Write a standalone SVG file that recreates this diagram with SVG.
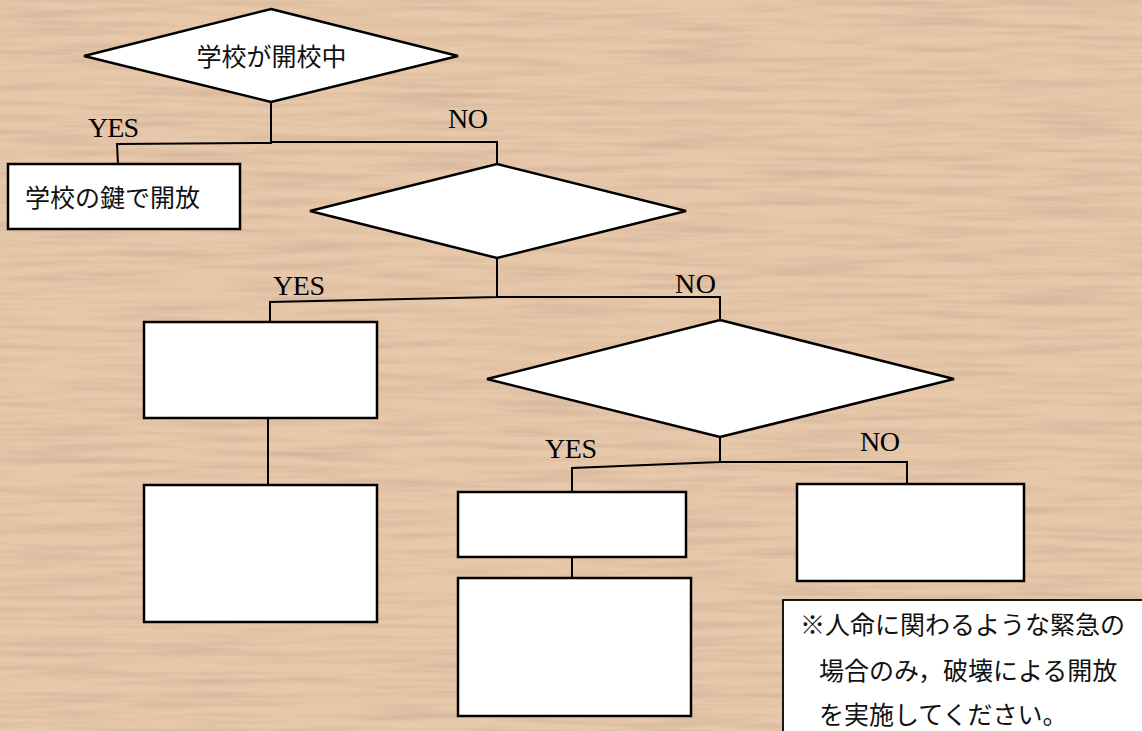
<svg xmlns="http://www.w3.org/2000/svg" width="1142" height="731" viewBox="0 0 1142 731">
<defs>
<filter id="wood" x="0" y="0" width="100%" height="100%">
<feTurbulence type="fractalNoise" baseFrequency="0.008 0.14" numOctaves="3" seed="7"/>
<feColorMatrix type="matrix" values="0 0 0 0 0.6  0 0 0 0 0.42  0 0 0 0 0.3  1.7 0 0 0 -0.68"/>
</filter>
<style>
.node{fill:#fff;stroke:#000;stroke-width:2.5}
.note{fill:#fff;stroke:#000;stroke-width:1.8}
.conn{fill:none;stroke:#000;stroke-width:2}
.lbl{font-family:"Liberation Serif","Times New Roman",serif;font-size:28px;fill:#000}
.jp{font-family:"Noto Sans CJK JP","Noto Sans",sans-serif;font-size:25px;fill:#111}
</style>
</defs>
<rect width="1142" height="731" fill="#e8c8aa"/>
<rect width="1142" height="731" filter="url(#wood)" opacity="0.8"/>

<g id="connectors">
<polyline class="conn" points="271,102 271,143 117,144 118,164"/>
<polyline class="conn" points="271,142 497,142 497,164"/>
<polyline class="conn" points="497,258 497,297 270,302 270,322"/>
<polyline class="conn" points="497,297 720,297 720,320"/>
<line class="conn" x1="268" y1="418" x2="268" y2="485"/>
<polyline class="conn" points="720,437 720,462 572,468 572,492"/>
<polyline class="conn" points="720,462 907,462 907,484"/>
<line class="conn" x1="572" y1="557" x2="572" y2="578"/>
</g>

<g id="labels">
<text class="lbl" x="88" y="137" textLength="51">YES</text>
<text class="lbl" x="448" y="128" textLength="40">NO</text>
<text class="lbl" x="273" y="295" textLength="52">YES</text>
<text class="lbl" x="675" y="293" textLength="41">NO</text>
<text class="lbl" x="545" y="458" textLength="52">YES</text>
<text class="lbl" x="860" y="451" textLength="40">NO</text>
</g>

<g id="d1">
<polygon class="node" points="271,9 458,56 271,102 84,56"/>
<text class="jp" x="271.5" y="66" text-anchor="middle">学校が開校中</text>
</g>
<g id="r1">
<rect class="node" x="8" y="164" width="232" height="65"/>
<text class="jp" x="25" y="207">学校の鍵で開放</text>
</g>
<g id="d2">
<polygon class="node" points="497,164 686,211 497,258 310,211"/>
</g>
<g id="r2">
<rect class="node" x="144" y="322" width="233" height="96"/>
</g>
<g id="r3">
<rect class="node" x="144" y="485" width="233" height="137"/>
</g>
<g id="d3">
<polygon class="node" points="720,320 954,379 720,437 487,379"/>
</g>
<g id="r4">
<rect class="node" x="458" y="492" width="228" height="65"/>
</g>
<g id="r5">
<rect class="node" x="458" y="578" width="233" height="138"/>
</g>
<g id="r6">
<rect class="node" x="797" y="484" width="227" height="97"/>
</g>
<g id="note">
<rect class="note" x="783" y="600" width="370" height="140"/>
<text class="jp" x="800" y="634">※人命に関わるような緊急の</text>
<text class="jp" x="819" y="680">場合のみ，破壊による開放</text>
<text class="jp" x="819" y="724">を実施してください。</text>
</g>
</svg>
